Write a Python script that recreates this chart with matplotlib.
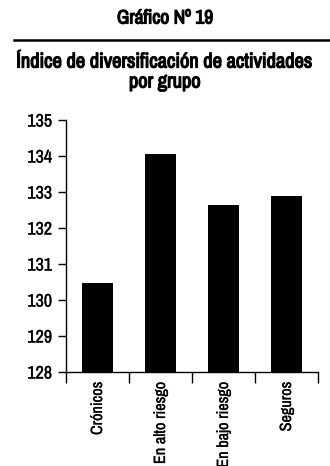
import matplotlib
matplotlib.use("Agg")
import matplotlib.pyplot as plt
import matplotlib.patheffects as pe
from matplotlib.lines import Line2D

plt.rcParams['font.family'] = ['Archivo Narrow', 'DejaVu Sans']

categories = ["Crónicos", "En alto riesgo", "En bajo riesgo", "Seguros"]
values = [130.47, 134.05, 132.63, 132.9]
yticks = [128, 129, 130, 131, 132, 133, 134, 135]

# heavier strokes to give the condensed face a bold look
bold = [pe.withStroke(linewidth=0.9, foreground="black")]
semi = [pe.withStroke(linewidth=0.2, foreground="black")]

fig = plt.figure(figsize=(3.30, 4.66), dpi=100)
ax = fig.add_axes([0.2, 0.2017, 0.7636, 0.5408])

centers = [i + 0.5 for i in range(len(categories))]
ax.bar(centers, [v - yticks[0] for v in values], bottom=yticks[0],
       width=0.48, color="black")

ax.set_xlim(0, len(categories))
ax.set_ylim(yticks[0], yticks[-1])
ax.set_yticks(yticks)
ax.set_yticklabels([str(t) for t in yticks], fontsize=13)
ax.set_xticks(range(len(categories) + 1))
ax.set_xticklabels([])
ax.set_xticks(centers, minor=True)
ax.set_xticklabels(categories, minor=True, rotation=90, fontsize=11.7,
                   va="top", ha="center")
for lbl in ax.get_yticklabels() + ax.get_xticklabels(minor=True):
    lbl.set_path_effects(semi)
ax.tick_params(axis="x", which="major", direction="out", length=8, width=1)
ax.tick_params(axis="x", which="minor", length=0, pad=7)
ax.tick_params(axis="y", direction="out", length=6, width=1, pad=4)
for s in ("top", "right"):
    ax.spines[s].set_visible(False)
for s in ("left", "bottom"):
    ax.spines[s].set_linewidth(1)

fig.text(0.5, 1 - 18 / 466, "Gráfico Nº 19", ha="center", va="center",
         fontsize=14, path_effects=bold)
fig.add_artist(Line2D([14 / 330, 1.0], [1 - 40 / 466, 1 - 40 / 466],
                      color="black", linewidth=1.8))
fig.text(0.5, 1 - 62 / 466, "Índice de diversificación de actividades",
         ha="center", va="center", fontsize=14.7, path_effects=bold)
fig.text(0.5, 1 - 82 / 466, "por grupo",
         ha="center", va="center", fontsize=14.7, path_effects=bold)

fig.savefig("out.png", dpi=100)
